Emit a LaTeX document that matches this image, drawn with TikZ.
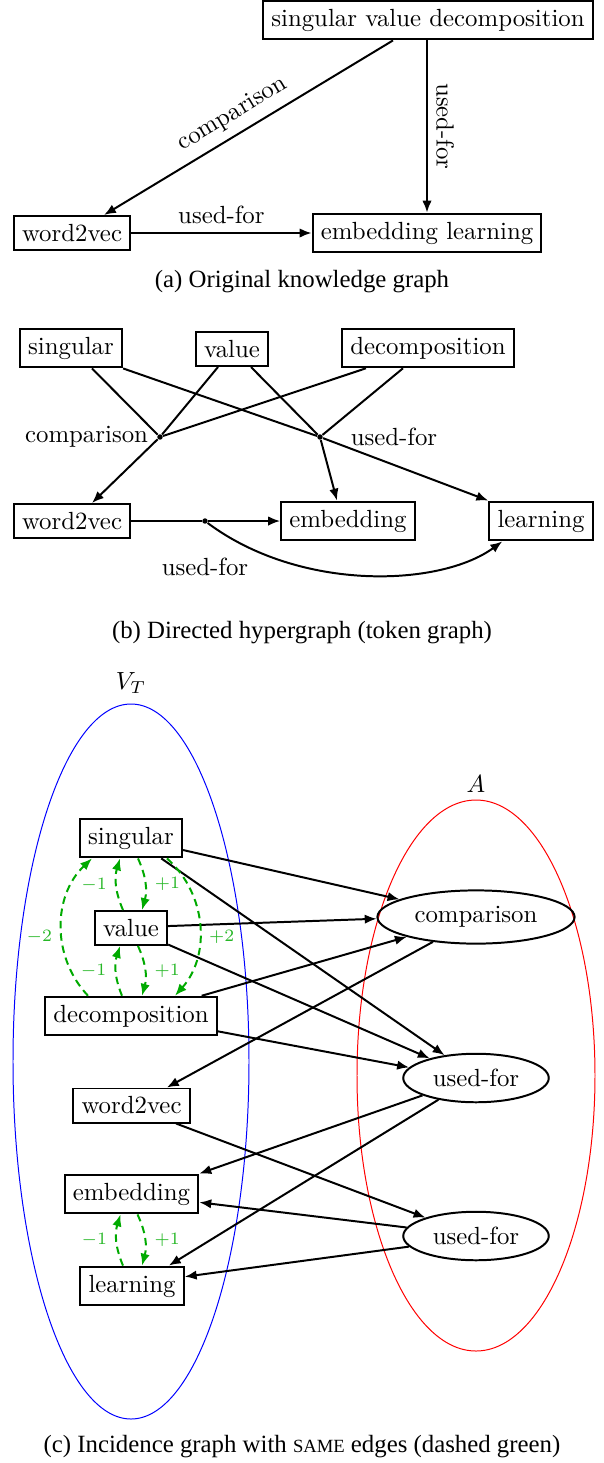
\documentclass[tikz,border=0pt]{standalone}
\usepackage{fontspec}
\newfontfamily\capfont{Liberation Serif}
\usetikzlibrary{arrows.meta,calc,shapes.geometric}
\definecolor{samegreen}{RGB}{0,170,0}
\begin{document}
\begin{tikzpicture}[x=0.403pt,y=0.403pt,
  box/.style={draw,thick,rectangle,inner sep=3.33pt},
  ell/.style={draw,thick,ellipse,inner sep=3.33pt},
  arr/.style={thick,-{Latex[length=4.8pt,width=3.8pt]}},
  ln/.style={thick},
  hub/.style={circle,fill,inner sep=0pt,minimum size=2.2pt},
  samee/.style={thick,samegreen,dash pattern=on 3pt off 2pt,-{Latex[length=4.8pt,width=3.8pt]}},
  lab/.style={font=\scriptsize,text=samegreen!85!white,inner sep=3.5pt},
  captxt/.style={font=\capfont}
]
\useasboundingbox (0,0) rectangle (604,-1463);

% ---------- (a) ----------
\node[box] (svd) at (428,-20) {singular value decomposition};
\node[box] (w2va) at (72,-233) {word2vec};
\node[box] (ela) at (427,-233) {embedding learning};
\draw[arr] ($(svd.south)+(-35,0)$) -- node[sloped,above,pos=0.52]{comparison} ($(w2va.north)+(32,0)$);
\draw[arr] (svd.south -| ela.north) -- node[midway,rotate=-90,anchor=south]{used-for} (ela.north);
\draw[arr] (w2va.east) -- node[above]{used-for} (ela.west);
\node[captxt] (capa) at (302,-282) {(a) Original knowledge graph};

% ---------- (b) ----------
\node[box] (sgb) at (71,-348) {singular};
\node[box] (vab) at (232,-349) {value};
\node[box] (dcb) at (428,-348) {decomposition};
\node[hub] (hc) at (160,-437) {};
\node[hub] (hu) at (320,-437) {};
\node[box] (w2vb) at (72,-521) {word2vec};
\node[box] (emb) at (348,-521) {embedding};
\node[box] (lnb) at (541,-521) {learning};
\node[hub] (h3) at (205,-521) {};
\node[left] (lblc) at (hc.west) {comparison};
\node (lblu) at (394,-437) {used-for};
\node (lbl3) at (205,-567) {used-for};

\draw[ln] ($(sgb.south)+(21,0)$) -- (hc);
\draw[ln] ($(vab.south)+(-14,0)$) -- (hc);
\draw[ln] ($(dcb.south)+(-62,0)$) -- (hc);
\draw[arr] (hc) -- ($(w2vb.north)+(20,0)$);
\draw[ln] (sgb.south east) -- (hu);
\draw[ln] ($(vab.south)+(19,0)$) -- (hu);
\draw[ln] ($(dcb.south)+(-25,0)$) -- (hu);
\draw[arr] (hu) -- ($(emb.north)+(-11,0)$);
\draw[arr] (hu) -- (lnb.north west);
\draw[ln] (w2vb.east) -- (h3);
\draw[arr] (h3) -- (emb.west);
\draw[arr] (h3) .. controls (300,-592) and (440,-587) .. ($(lnb.south west)+(14,0)$);
\node[captxt] (capb) at (302,-633) {(b) Directed hypergraph (token graph)};

% ---------- (c) ----------
\draw[blue,line width=0.4pt] (131,-1061.5) ellipse [x radius=118, y radius=357.5];
\node (vt) at (131,-683) {$V_T$};
\draw[red,line width=0.4pt] (476,-1075.5) ellipse [x radius=119, y radius=275.5];
\node (aa) at (476,-784) {$A$};

\node[box] (sgc) at (131,-838) {singular};
\node[box] (vac) at (131,-928) {value};
\node[box] (dcc) at (131,-1016) {decomposition};
\node[box] (w2vc) at (131.5,-1105.5) {word2vec};
\node[box] (emc) at (131.5,-1194) {embedding};
\node[box] (lnc) at (132,-1286) {learning};
\node[ell] (cmp) at (476,-917) {comparison};
\node[ell] (uf1) at (476,-1078) {used-for};
\node[ell] (uf2) at (476,-1236) {used-for};

\draw[arr] (sgc.-13) -- (cmp.167);
\draw[arr] (sgc.-34) -- (uf1.144);
\draw[arr] (vac.3) -- (cmp.181);
\draw[arr] (vac.-24) -- (uf1.157);
\draw[arr] (dcc.16) -- (cmp.196);
\draw[arr] (dcc.-10) -- (uf1.171);
\draw[arr] (cmp.210) -- (w2vc.27);
\draw[arr] (w2vc.-22) -- (uf2.160);
\draw[arr] (uf1.198) -- (emc.north east);
\draw[arr] (uf1.210) -- (lnc.29);
\draw[arr] (uf2.173) -- (emc.-7);
\draw[arr] (uf2.189) -- (lnc.10);

\draw[samee] ($(vac.north)+(-8,0)$) to[bend left=20] node[lab,left]{$-1$} ($(sgc.south)+(-11,0)$);
\draw[samee] ($(sgc.south)+(7,0)$) to[bend left=20] node[lab,right]{$+1$} ($(vac.north)+(11,0)$);
\draw[samee] ($(dcc.north)+(-9,0)$) to[bend left=20] node[lab,left]{$-1$} ($(vac.south)+(-11,0)$);
\draw[samee] ($(vac.south)+(7,0)$) to[bend left=20] node[lab,right]{$+1$} ($(dcc.north)+(11,0)$);
\draw[samee] ($(dcc.north)+(-43,0)$) to[bend left=45] node[lab,left,pos=0.43]{$-2$} ($(sgc.south)+(-39,0)$);
\draw[samee] ($(sgc.south)+(36,0)$) to[bend left=45] node[lab,right,pos=0.58]{$+2$} ($(dcc.north)+(44,0)$);
\draw[samee] ($(lnc.north)+(-9,0)$) to[bend left=20] node[lab,left]{$-1$} ($(emc.south)+(-11,0)$);
\draw[samee] ($(emc.south)+(6,0)$) to[bend left=20] node[lab,right]{$+1$} ($(lnc.north)+(10,0)$);

\node[captxt] (capc) at (302,-1447) {(c) Incidence graph with {\fontsize{7.5pt}{9pt}\selectfont SAME} edges (dashed green)};
\end{tikzpicture}
\end{document}
